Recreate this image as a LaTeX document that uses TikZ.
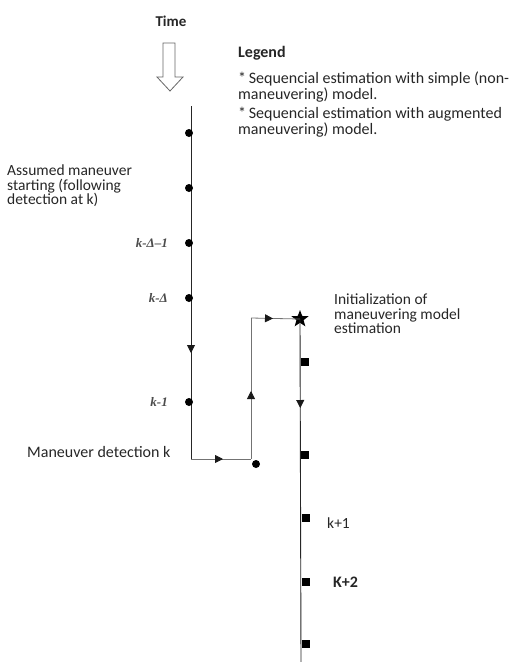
\documentclass[tikz,border=0pt]{standalone}
\usepackage{fontspec}
\setmainfont{Carlito}
\newfontfamily\timesfont{Liberation Serif}
\usetikzlibrary{shapes.geometric,arrows.meta,decorations.markings}
\begin{document}
\begin{tikzpicture}[x=1pt,y=-1pt,
  txt/.style={font=\fontsize{15.5}{14.5}\selectfont, text=black!85, inner sep=0, align=left},
  legtxt/.style={font=\fontsize{16}{13.5}\selectfont, text=black!85, inner sep=0, align=left},
  btxt/.style={font=\fontsize{15}{15}\selectfont\bfseries, text=black!85, inner sep=0},
  mathlbl/.style={font=\fontsize{13}{13}\selectfont\timesfont\itshape\bfseries, text=black!70, inner sep=0, anchor=east},
  dotmark/.style={circle, fill=black, inner sep=0, minimum size=8pt},
  sqmark/.style={rectangle, fill=black, inner sep=0, minimum size=8pt},
  starmark/.style={star, star points=5, star point ratio=2.4, fill=black, inner sep=0, minimum size=18pt},
  mainline/.style={draw=black!85, line width=0.9pt},
  pathline/.style={draw=black!55, line width=0.8pt},
  tri/.tip={Triangle[length=8pt,width=8pt]},
  markat/.style={postaction=decorate, decoration={markings, mark=at position #1 with {\arrow[black!90]{tri}}}}
]
\useasboundingbox (0,0) rectangle (515,662);

% time arrow
\node[btxt] (time) at (171,21) {Time};
\draw[draw=black!60, line width=0.8pt, fill=white]
  (163,43) -- (175,43) -- (175,77) -- (183,77) -- (170,91) -- (157,77) -- (163,77) -- cycle;

% legend
\node[btxt, font=\fontsize{16}{16}\selectfont\bfseries, anchor=base west] (legend) at (238,57) {Legend};
\node[legtxt, anchor=north west] (leg1) at (238,72) {*\,Sequencial estimation with simple (non-\\maneuvering) model.};
\node[legtxt, anchor=north west] (leg2) at (238,107) {*\,Sequencial estimation with augmented\\maneuvering) model.};

% coordinates
\coordinate (top) at (191,106);
\coordinate (c1) at (191,459);
\coordinate (c2) at (251,459);
\coordinate (c3) at (251,318);
\coordinate (bottom) at (301,662);

% main timeline
\draw[mainline, markat=247pt] (top) -- (c1);
\draw[pathline, markat=32pt] (c1) -- (c2);
\draw[pathline, markat=68pt] (c2) -- (c3);

\node[starmark] (star) at (300,319) {};
\draw[pathline, markat=22pt] (c3) -- (star.center);
\draw[mainline, markat=89pt] (star.center) -- (bottom);

% dots on main timeline
\node[dotmark] (d1) at (189,133) {};
\node[dotmark] (d2) at (189,188) {};
\node[dotmark] (d3) at (189,243) {};
\node[dotmark] (d4) at (189,298) {};
\node[dotmark] (d5) at (189,402) {};
\node[dotmark] (dk) at (256,464) {};

% squares on the right timeline
\node[sqmark] (s1) at (305,362) {};
\node[sqmark] (s2) at (305,455) {};
\node[sqmark] (s3) at (306,518) {};
\node[sqmark] (s4) at (306,582) {};
\node[sqmark] (s5) at (306,644) {};

% labels
\node[mathlbl] (l3) at (168,243) {k-Δ–1};
\node[mathlbl] (l4) at (168,298) {k-Δ};
\node[mathlbl] (l5) at (168,402) {k-1};

\node[txt, anchor=north west] (assumed) at (7,165) {Assumed maneuver\\starting (following\\detection at k)};
\node[txt, font=\fontsize{16}{16}\selectfont, anchor=base west] (detect) at (27,457) {Maneuver detection k};
\node[txt, anchor=north west] (init) at (334,294) {Initialization of\\maneuvering model\\estimation};
\node[txt, anchor=west] (kp1) at (327,523) {k+1};
\node[txt, font=\fontsize{16}{16}\selectfont\bfseries, anchor=west] (kp2) at (333,582) {K+2};
\end{tikzpicture}
\end{document}
